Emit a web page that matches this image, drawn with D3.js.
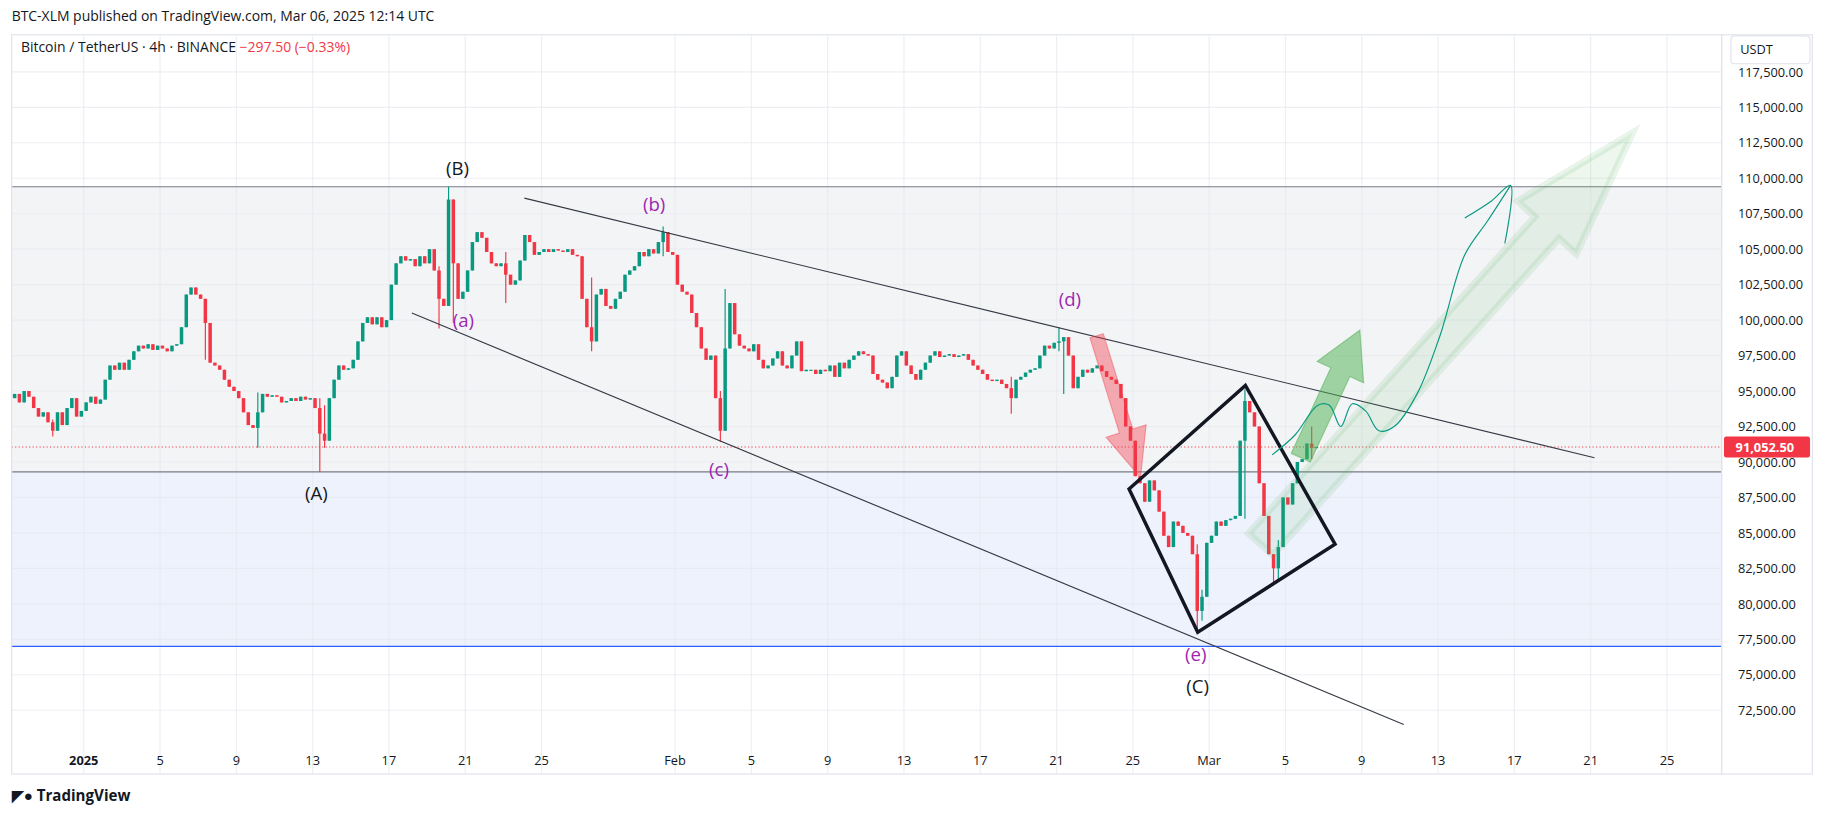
<!DOCTYPE html>
<html>
<head>
<meta charset="utf-8">
<script src="https://cdn.jsdelivr.net/npm/d3@7"></script>
<style>
  body { margin: 0; background: #fff; }
  text { font-family: "Open Sans", "Noto Sans", sans-serif; }
</style>
</head>
<body>
<div id="chart"></div>
<script>
// 6h closes (in thousands USDT), starting 2024-12-28 00:00 UTC
const closes = [
  94.5,94.8,94.2,95.0, 94.6,93.8,93.2,93.5, 92.8,92.2,93.5,92.6, 93.8,94.5,93.2,93.6,
  94.2,94.6,94.1,94.4, 95.8,96.8,96.5,97.0, 96.5,97.2,97.8,98.2, 98.0,98.3,97.9,98.2,
  98.0,97.8,98.2,98.3, 99.5,101.8,102.3,101.8, 101.5,99.8,97.0,96.8, 96.5,95.8,95.3,95.0,
  94.5,93.5,92.6,92.4, 93.5,94.8,94.6,94.7, 94.6,94.2,94.3,94.5, 94.3,94.6,94.4,94.5,
  93.8,92.0,91.5,94.5, 95.8,96.8,96.5,96.6, 97.2,98.5,99.8,100.2, 99.7,100.2,99.5,100.0,
  102.5,104.0,104.5,104.2, 104.3,103.8,104.5,104.0, 105.0,103.5,101.5,101.0, 108.5,104.0,101.5,102.0,
  103.5,105.5,106.2,105.8, 104.8,104.0,103.8,104.0, 103.2,102.5,102.8,104.2, 106.0,105.5,104.6,104.8,
  105.0,104.8,105.0,104.9, 104.8,105.0,104.6,104.5, 101.5,99.5,98.5,101.8, 102.2,101.0,100.8,101.5,
  102.0,103.2,103.5,103.8, 104.8,104.5,105.0,104.7, 105.5,106.2,104.8,104.6, 102.5,102.0,101.8,100.5,
  99.5,98.0,97.2,97.5, 94.5,92.2,98.0,101.2, 99.0,98.2,98.0,97.8, 98.3,97.2,96.6,96.8,
  97.3,97.8,96.8,96.6, 97.5,98.5,96.4,96.5, 96.5,96.2,96.5,96.4, 96.8,96.0,97.0,96.6,
  97.2,97.5,97.8,97.6, 97.5,96.2,95.8,95.6, 95.2,96.0,97.5,97.8, 96.8,96.2,95.8,96.5,
  97.0,97.5,97.8,97.4, 97.5,97.6,97.4,97.5, 97.6,97.2,96.8,96.5, 96.2,95.8,95.7,95.8,
  95.5,95.2,94.5,95.8, 96.0,96.3,96.5,96.6, 97.5,98.2,98.0,98.4, 98.5,98.8,97.5,95.2,
  96.0,96.5,96.3,96.6, 96.8,96.4,96.0,95.8, 95.5,94.5,92.5,91.5, 89.0,88.5,87.2,88.7,
  88.0,86.5,84.8,84.0, 85.8,85.5,85.0,84.8, 83.5,79.5,80.5,84.3, 84.8,85.8,85.5,85.9,
  86.0,86.2,91.5,94.3, 93.5,92.5,88.5,86.2, 83.5,82.5,84.0,87.5, 87.0,88.5,90.0,90.2,
  91.3,91.0,91.05
];
// wick extremes [candle index, high, low]
const wicks = [
  [9, 93.0, 91.8], [41, 99.5, 97.2], [52, 94.9, 91.0], [65, 94.5, 89.3], [66, 94.0, 91.0],
  [90, 103.8, 99.4], [92, 109.4, 103.0], [93, 107.5, 99.8], [104, 104.8, 101.2],
  [122, 103.0, 97.8], [137, 106.6, 104.5], [149, 95.0, 91.4], [150, 102.2, 96.8],
  [210, 96.0, 93.4], [220, 99.5, 97.8], [221, 98.5, 94.8],
  [249, 84.2, 78.2], [250, 81.0, 78.8], [259, 95.1, 86.0], [265, 82.8, 81.4], [266, 84.5, 81.6],
  [273, 92.5, 90.2]
];
const priceTicks = [72500, 75000, 77500, 80000, 82500, 85000, 87500, 90000, 92500, 95000,
  97500, 100000, 102500, 105000, 107500, 110000, 112500, 115000, 117500];
const dateTicks = ["2025-01-01","2025-01-05","2025-01-09","2025-01-13","2025-01-17","2025-01-21",
  "2025-01-25","2025-02-01","2025-02-05","2025-02-09","2025-02-13","2025-02-17","2025-02-21",
  "2025-02-25","2025-03-01","2025-03-05","2025-03-09","2025-03-13","2025-03-17","2025-03-21","2025-03-25"];
const levels = [109400, 89300, 77000];
const lastPrice = 91052.5;
// drawings: [day since Jan 1, price]
const upperLine = [[23.1, 108600], [79.2, 90300]];
const lowerLine = [[17.2, 100500], [69.2, 71500]];
const diamond = [[54.8, 88100], [60.9, 95400], [65.6, 84200], [58.4, 78000]];
const redArrow = [[53.1, 98900], [55.4, 88900]];
const greenArrow = [[63.8, 90300], [66.9, 99300]];
const bigArrow = [[61.7, 84200], [81.2, 113200]];
const pathCurve = [[62.3, 90500], [63.5, 91900], [64.7, 94000], [65.3, 94000], [65.9, 92500],
  [66.5, 94100], [67.2, 93600], [67.9, 92200], [68.7, 92500], [69.9, 94800], [71.1, 98900],
  [72.4, 104600], [73.6, 107000], [74.8, 109500]];
const hook = [[72.4, 107200], [73.8, 108400], [74.8, 109500], [74.5, 105400]];
const waveLabels = [
  ["(B)", 19.6, 110200, "#131722"], ["(A)", 12.2, 87300, "#131722"], ["(C)", 58.4, 73700, "#131722"],
  ["(a)", 19.9, 99500, "#9c27b0"], ["(b)", 29.9, 107700, "#9c27b0"], ["(c)", 33.3, 89000, "#9c27b0"],
  ["(d)", 51.7, 101000, "#9c27b0"], ["(e)", 58.3, 76000, "#9c27b0"]
];

const W = 1568, H = 706;
const svg = d3.select("#chart").append("svg")
  .attr("width", 1824).attr("height", 818)
  .attr("viewBox", `0 0 ${W} ${H}`).attr("preserveAspectRatio", "none");

const cL = 10, cR = 1480, cT = 30, cB = 668;
const t0 = Date.UTC(2025, 0, 1);
const dayDate = d => new Date(t0 + d * 864e5);
const x = d3.scaleUtc().domain([new Date("2025-01-01T00:00Z"), new Date("2025-03-25T00:00Z")]).range([72, 1433]);
const y = d3.scaleLinear().domain([72500, 117500]).range([613, 62]);
const px = p => [x(dayDate(p[0])), y(p[1])];

svg.append("text").attr("x", 10).attr("y", 18).attr("font-size", 12).attr("fill", "#131722")
  .text("BTC-XLM published on TradingView.com, Mar 06, 2025 12:14 UTC");

svg.append("clipPath").attr("id", "c").append("rect")
  .attr("x", cL).attr("y", cT).attr("width", cR - cL).attr("height", cB - cT);
const g = svg.append("g").attr("clip-path", "url(#c)");

// bands
g.append("rect").attr("x", cL).attr("width", cR - cL).attr("y", y(levels[0])).attr("height", y(levels[1]) - y(levels[0])).attr("fill", "#f3f4f6");
g.append("rect").attr("x", cL).attr("width", cR - cL).attr("y", y(levels[1])).attr("height", y(levels[2]) - y(levels[1])).attr("fill", "#eef2fd");

// grid
g.selectAll(".hg").data(priceTicks).join("line").attr("x1", cL).attr("x2", cR)
  .attr("y1", d => y(d)).attr("y2", d => y(d)).attr("stroke", "#e6e8ee").attr("stroke-opacity", 0.7);
g.selectAll(".vg").data(dateTicks).join("line").attr("y1", cT).attr("y2", cB)
  .attr("x1", d => x(new Date(d + "T00:00Z"))).attr("x2", d => x(new Date(d + "T00:00Z"))).attr("stroke", "#e6e8ee").attr("stroke-opacity", 0.7);

g.append("line").attr("x1", cL).attr("x2", cR).attr("y1", y(levels[0])).attr("y2", y(levels[0])).attr("stroke", "#787b86");
g.append("line").attr("x1", cL).attr("x2", cR).attr("y1", y(levels[1])).attr("y2", y(levels[1])).attr("stroke", "#787b86");
g.append("line").attr("x1", cL).attr("x2", cR).attr("y1", y(levels[2])).attr("y2", y(levels[2])).attr("stroke", "#2962ff");

// candles
const start = Date.UTC(2024, 11, 28);
const candles = closes.map((c, i) => {
  const o = i ? closes[i - 1] : c;
  let h = Math.max(o, c), l = Math.min(o, c);
  const w = wicks.find(k => k[0] === i);
  if (w) { h = Math.max(h, w[1]); l = Math.min(l, w[2]); }
  return { t: new Date(start + i * 6 * 3600e3 + 3 * 3600e3), o: o * 1000, h: h * 1000, l: l * 1000, c: c * 1000 };
});
const col = d => d.c >= d.o ? "#089981" : "#f23645";
const cg = g.append("g");
cg.selectAll("line").data(candles).join("line")
  .attr("x1", d => x(d.t)).attr("x2", d => x(d.t)).attr("y1", d => y(d.h)).attr("y2", d => y(d.l)).attr("stroke", col);
cg.selectAll("rect").data(candles).join("rect")
  .attr("x", d => x(d.t) - 1.5).attr("width", 3)
  .attr("y", d => y(Math.max(d.o, d.c))).attr("height", d => Math.max(1, Math.abs(y(d.o) - y(d.c)))).attr("fill", col);

// last price line
g.append("line").attr("x1", cL).attr("x2", cR).attr("y1", y(lastPrice)).attr("y2", y(lastPrice))
  .attr("stroke", "#f23645").attr("stroke-dasharray", "1,2");

// trend lines
const line = d3.line().x(d => px(d)[0]).y(d => px(d)[1]);
g.append("path").attr("d", line(upperLine)).attr("stroke", "#363a45").attr("fill", "none");
g.append("path").attr("d", line(lowerLine)).attr("stroke", "#363a45").attr("fill", "none");

// arrows
function arrow(pts, width, headW, headL) {
  const [a, b] = pts.map(px);
  const dx = b[0] - a[0], dy = b[1] - a[1], len = Math.hypot(dx, dy);
  const ux = dx / len, uy = dy / len, nx = -uy, ny = ux;
  const bx = b[0] - ux * headL, by = b[1] - uy * headL;
  return [[a[0] + nx * width, a[1] + ny * width], [bx + nx * width, by + ny * width], [bx + nx * headW, by + ny * headW],
    b, [bx - nx * headW, by - ny * headW], [bx - nx * width, by - ny * width], [a[0] - nx * width, a[1] - ny * width]];
}
const poly = d3.line();
g.append("path").attr("d", poly(arrow(bigArrow, 14, 34, 110)) + "Z").attr("fill", "#4caf50").attr("fill-opacity", 0.1)
  .attr("stroke", "#4caf50").attr("stroke-opacity", 0.12).attr("stroke-width", 6);
g.append("path").attr("d", poly(arrow(redArrow, 6, 18, 42)) + "Z").attr("fill", "#f23645").attr("fill-opacity", 0.4)
  .attr("stroke", "#f23645").attr("stroke-opacity", 0.4);
g.append("path").attr("d", poly(arrow(greenArrow, 9, 22, 40)) + "Z").attr("fill", "#4caf50").attr("fill-opacity", 0.5)
  .attr("stroke", "#4caf50").attr("stroke-opacity", 0.5);

// diamond
g.append("path").attr("d", poly(diamond.map(px)) + "Z").attr("fill", "none").attr("stroke", "#131722").attr("stroke-width", 3);

// projected path
const curve = d3.line().x(d => px(d)[0]).y(d => px(d)[1]).curve(d3.curveCatmullRom);
g.append("path").attr("d", curve(pathCurve)).attr("fill", "none").attr("stroke", "#089981");
g.append("path").attr("d", curve(hook)).attr("fill", "none").attr("stroke", "#089981");

// labels
g.selectAll(".wl").data(waveLabels).join("text")
  .attr("x", d => px([d[1], d[2]])[0]).attr("y", d => px([d[1], d[2]])[1])
  .attr("text-anchor", "middle").attr("font-size", 16).attr("fill", d => d[3]).text(d => d[0]);

// header
const hdr = svg.append("text").attr("x", 18).attr("y", 45).attr("font-size", 12);
hdr.append("tspan").attr("fill", "#131722").text("Bitcoin / TetherUS · 4h · BINANCE  ");
hdr.append("tspan").attr("fill", "#f23645").text("\u2212297.50 (\u22120.33%)");

// frame
svg.append("rect").attr("x", cL).attr("y", cT).attr("width", cR - cL).attr("height", cB - cT)
  .attr("fill", "none").attr("stroke", "#e0e3eb");
svg.append("rect").attr("x", cR).attr("y", cT).attr("width", 78).attr("height", cB - cT)
  .attr("fill", "none").attr("stroke", "#e0e3eb");

// axes
const ya = svg.append("g").attr("transform", `translate(${cR},0)`)
  .call(d3.axisRight(y).tickValues(priceTicks).tickSize(0).tickPadding(14)
    .tickFormat(d => d3.format(",.2f")(d)));
ya.select(".domain").remove();
ya.selectAll("text").attr("font-size", 11).attr("fill", "#131722").attr("font-family", "Open Sans, sans-serif");

svg.append("rect").attr("x", 1488).attr("y", 31).attr("width", 68).attr("height", 24).attr("rx", 3)
  .attr("fill", "#fff").attr("stroke", "#e0e3eb");
svg.append("text").attr("x", 1496).attr("y", 47).attr("font-size", 11).attr("fill", "#131722").text("USDT");

svg.append("rect").attr("x", 1482).attr("y", y(lastPrice) - 9).attr("width", 74).attr("height", 18).attr("rx", 2).attr("fill", "#f23645");
svg.append("text").attr("x", 1492).attr("y", y(lastPrice) + 4).attr("font-size", 11).attr("font-weight", "bold").attr("fill", "#fff")
  .text(d3.format(",.2f")(lastPrice));

const fmt = d => {
  const dt = new Date(d + "T00:00Z");
  if (d === "2025-01-01") return "2025";
  if (dt.getUTCDate() === 1) return d3.utcFormat("%b")(dt);
  return dt.getUTCDate();
};
svg.selectAll(".xl").data(dateTicks).join("text")
  .attr("x", d => x(new Date(d + "T00:00Z"))).attr("y", 660).attr("text-anchor", "middle")
  .attr("font-size", 11).attr("fill", "#131722").attr("font-weight", d => d === "2025-01-01" ? "bold" : "normal").text(fmt);

// footer
svg.append("text").attr("x", 10).attr("y", 691).attr("font-size", 13).attr("font-weight", "bold").attr("fill", "#131722").text("\u25E4\u25CF TradingView");
</script>
</body>
</html>
